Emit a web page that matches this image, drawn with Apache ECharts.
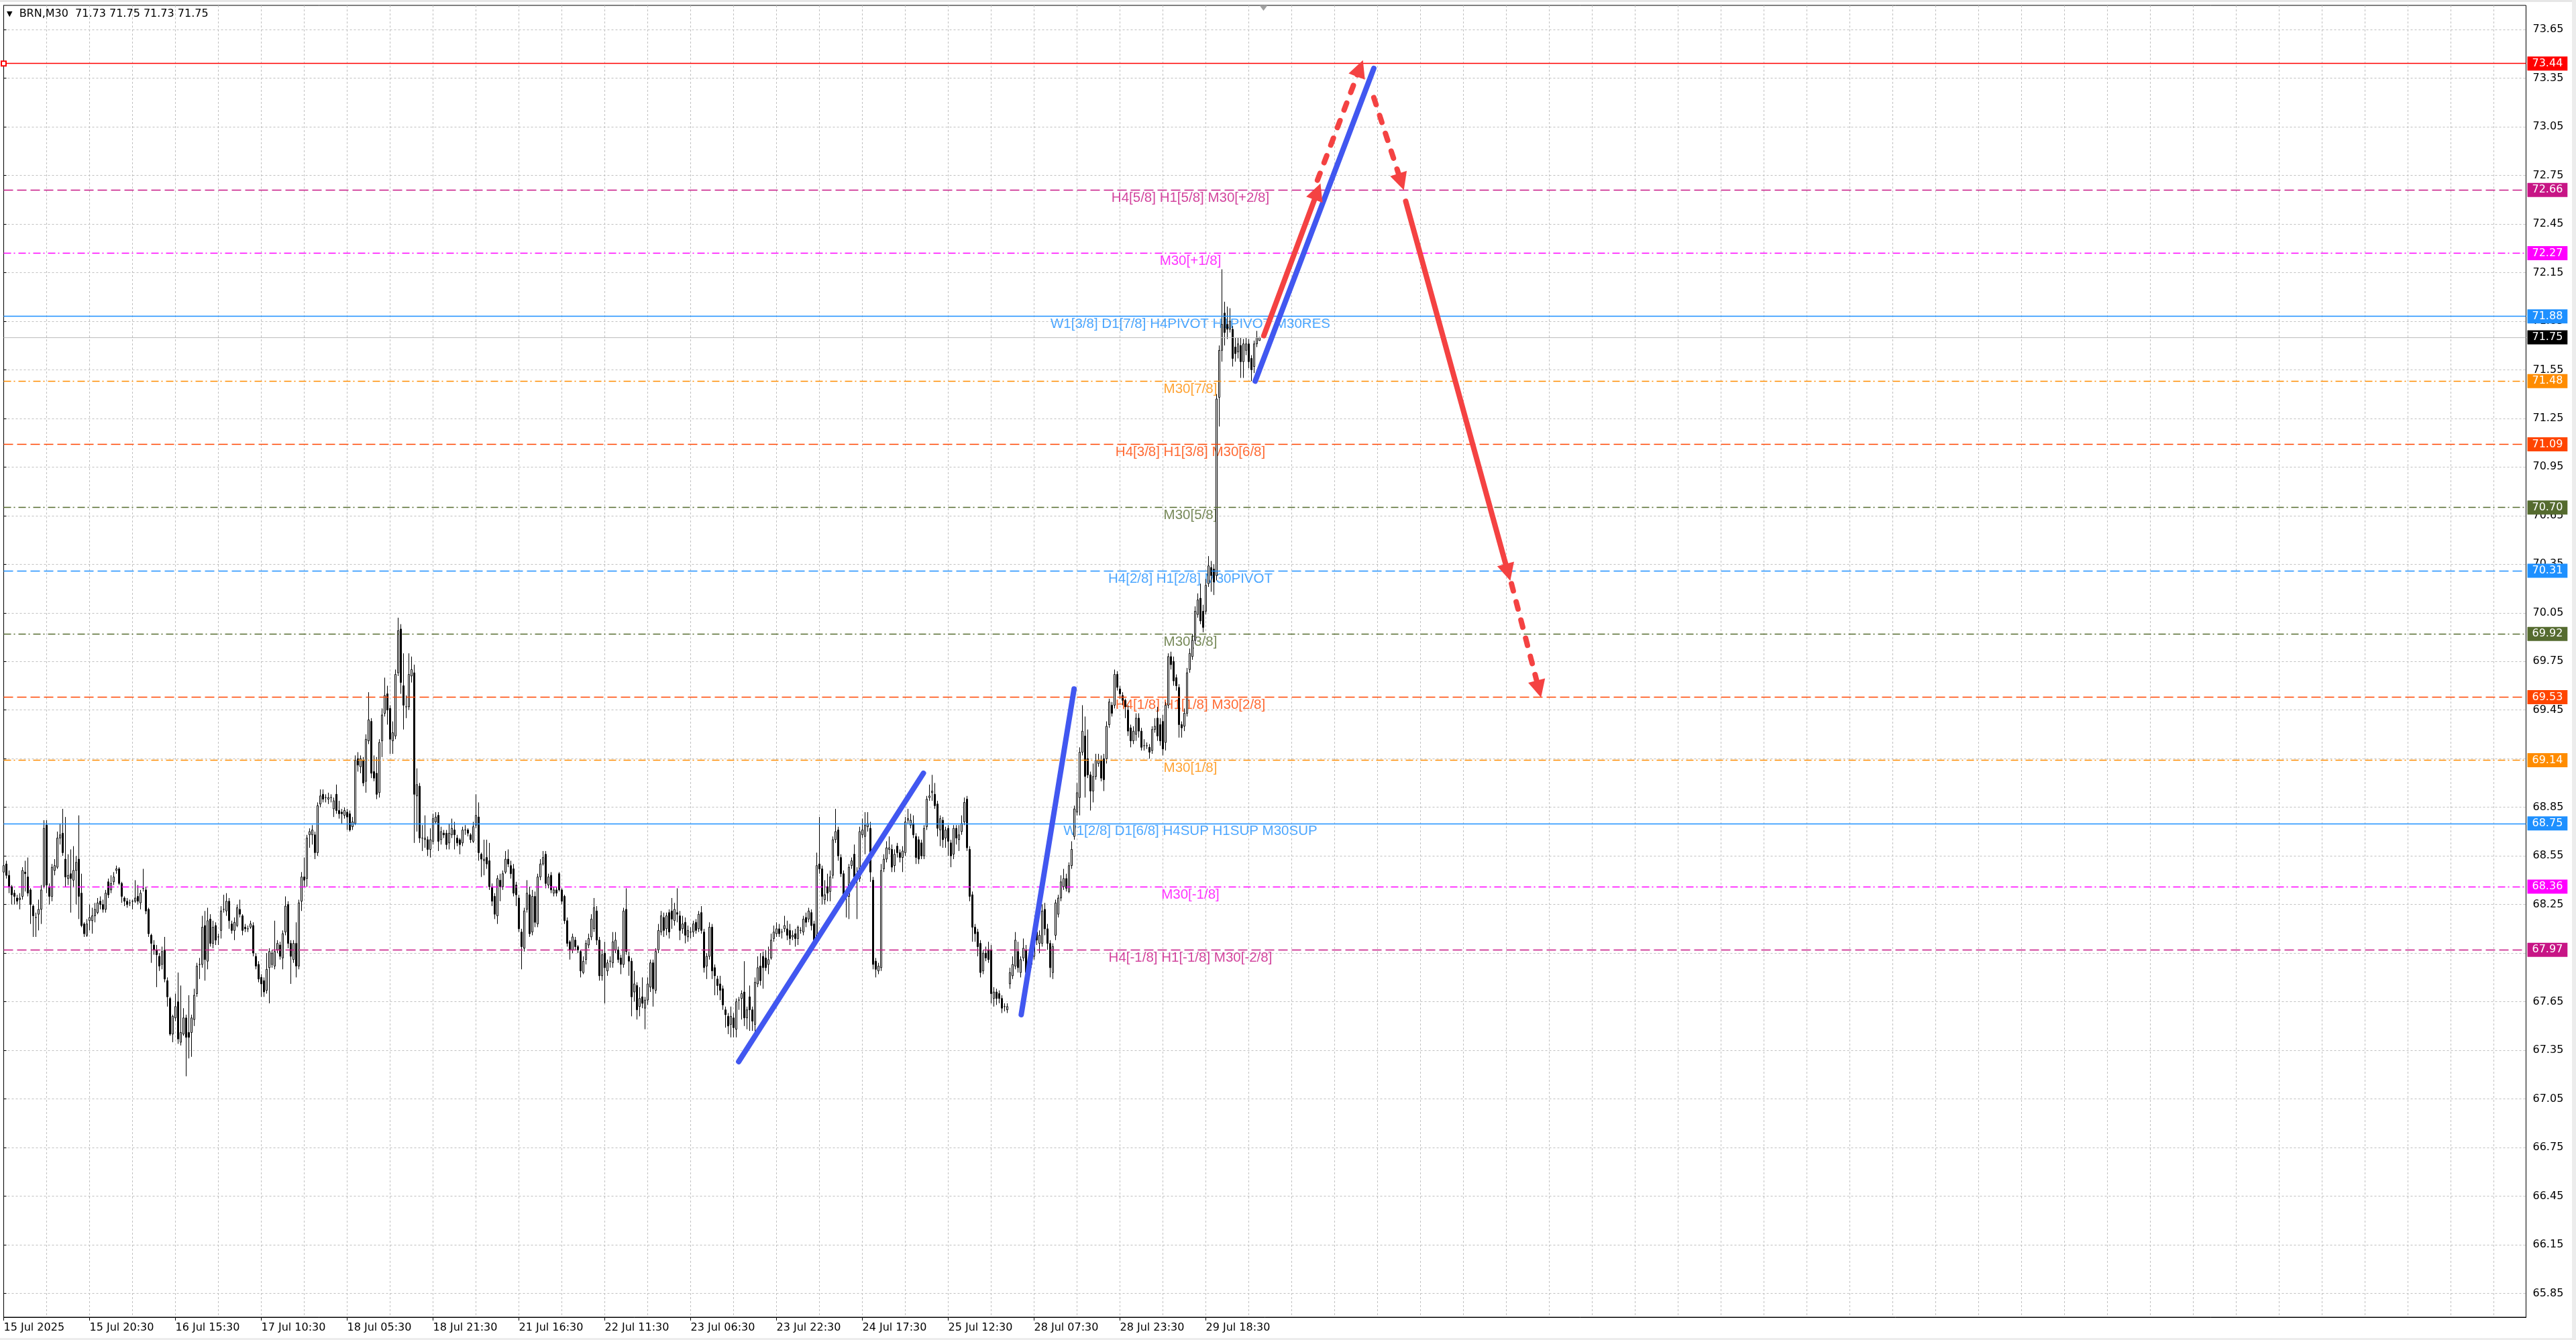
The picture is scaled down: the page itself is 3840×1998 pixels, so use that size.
<!DOCTYPE html>
<html>
<head>
<meta charset="utf-8">
<title>BRN,M30</title>
<script src="https://cdn.jsdelivr.net/npm/echarts@6/dist/echarts.min.js"></script>
<style>
    html, body { margin: 0; padding: 0; background: #fff; }
    #chart { width: 3840px; height: 1998px; }
</style>
</head>
<body>
<div id="chart"></div>
<script>
// M30 bars, one every 30 min
var barOpen = [
    68.45,68.50,68.43,68.36,68.32,68.29,68.28,68.30,68.45,68.42,
    68.34,68.24,68.17,68.19,68.22,68.36,68.74,68.36,68.30,68.46,
    68.48,68.66,68.69,68.53,68.41,68.44,68.40,68.46,68.53,68.32,
    68.13,68.06,68.15,68.15,68.18,68.20,68.27,68.25,68.22,68.39,
    68.34,68.39,68.46,68.47,68.38,68.29,68.27,68.26,68.27,68.27,
    68.30,68.26,68.35,68.34,68.22,68.06,68.00,67.97,67.93,67.88,
    67.97,67.78,67.67,67.45,67.55,67.65,67.40,67.45,67.55,67.46,
    67.46,67.54,67.70,67.88,67.88,68.12,67.90,68.16,68.01,68.12,
    68.05,68.09,68.22,68.21,68.27,68.13,68.09,68.12,68.22,68.18,
    68.11,68.10,68.11,68.12,67.93,67.88,67.80,67.78,67.72,67.86,
    67.88,67.87,67.97,68.00,67.92,68.08,68.25,68.01,67.91,68.01,
    67.87,68.27,68.42,68.41,68.68,68.68,68.68,68.57,68.87,68.93,
    68.91,68.90,68.91,68.84,68.93,68.83,68.82,68.80,68.82,68.81,
    68.73,68.75,69.15,69.10,69.14,69.01,69.26,69.38,69.07,69.06,
    68.94,69.26,69.43,69.55,69.46,69.26,69.29,69.68,69.95,69.60,
    69.47,69.47,69.66,69.68,68.92,68.98,68.66,68.65,68.65,68.59,
    68.64,68.76,68.80,68.65,68.69,68.69,68.63,68.68,68.71,68.66,
    68.65,68.63,68.71,68.71,68.68,68.64,68.74,68.79,68.56,68.52,
    68.54,68.52,68.36,68.30,68.18,68.40,68.36,68.45,68.53,68.49,
    68.47,68.37,68.29,68.08,67.98,68.22,68.31,68.08,68.30,68.13,
    68.42,68.50,68.56,68.37,68.43,68.32,68.34,68.44,68.34,68.30,
    68.15,68.02,67.97,68.03,67.99,67.96,67.83,67.91,68.00,68.05,
    68.10,68.21,68.03,67.81,67.95,67.84,67.90,67.89,67.97,67.97,
    67.92,67.88,68.22,67.93,67.90,67.71,67.75,67.62,67.68,67.61,
    67.66,67.74,67.89,67.72,67.97,68.08,68.17,68.10,68.20,68.21,
    68.15,68.20,68.18,68.10,68.14,68.05,68.08,68.08,68.14,68.10,
    68.20,68.08,67.87,67.93,68.11,67.86,67.79,67.76,67.73,67.60,
    67.56,67.51,67.55,67.48,67.66,67.67,67.71,67.55,67.68,67.60,
    67.51,67.76,67.87,67.93,67.92,67.88,67.92,68.04,68.07,68.10,
    68.08,68.10,68.10,68.09,68.05,68.07,68.04,68.09,68.08,68.17,
    68.16,68.20,68.13,68.03,68.50,68.47,68.28,68.36,68.33,68.43,
    68.65,68.71,68.54,68.44,68.32,68.30,68.49,68.56,68.43,68.41,
    68.68,68.67,68.73,68.72,68.40,67.90,67.84,67.86,68.47,68.53,
    68.59,68.59,68.49,68.61,68.57,68.54,68.57,68.77,68.74,68.75,
    68.67,68.65,68.63,68.55,68.73,68.91,68.94,68.93,68.87,68.71,
    68.77,68.66,68.72,68.63,68.56,68.72,68.65,68.70,68.76,68.90,
    68.59,68.31,68.11,68.08,68.01,67.84,67.95,67.97,67.97,67.67,
    67.71,67.70,67.67,67.62,67.60,67.76,67.81,67.87,67.96,67.83,
    67.92,67.97,67.91,67.88,67.93,68.08,68.01,68.01,68.22,68.10,
    68.01,67.83,68.06,68.19,68.29,68.36,68.41,68.33,68.49,68.67,
    68.82,68.91,69.19,69.29,69.15,69.05,68.95,69.04,69.12,69.14,
    69.15,69.15,69.36,69.48,69.48,69.67,69.58,69.54,69.51,69.45,
    69.34,69.26,69.30,69.40,69.32,69.23,69.23,69.22,69.20,69.33,
    69.40,69.36,69.38,69.25,69.48,69.78,69.75,69.65,69.59,69.36,
    69.35,69.43,69.70,69.78,69.88,70.04,70.14,70.06,70.06,70.23,
    70.33,70.32,70.28,71.38,71.67,71.90,71.83,71.80,71.80,71.69,
    71.66,71.70,71.60,71.67,71.71,71.62,71.57,71.71,71.73
];
var barHigh = [
    68.52,68.52,68.46,68.37,68.34,68.31,68.32,68.48,68.52,68.54,
    68.35,68.25,68.20,68.28,68.37,68.77,68.77,68.38,68.50,68.53,
    68.70,68.75,68.84,68.79,68.56,68.59,68.61,68.55,68.80,68.44,
    68.14,68.16,68.25,68.23,68.26,68.29,68.30,68.28,68.34,68.41,
    68.43,68.45,68.49,68.48,68.39,68.30,68.29,68.28,68.28,68.40,
    68.37,68.34,68.47,68.36,68.23,68.07,68.03,68.00,67.95,67.99,
    68.05,67.80,67.68,67.57,67.70,67.83,67.75,67.61,67.57,67.69,
    67.57,67.73,67.89,67.92,68.18,68.21,68.23,68.19,68.15,68.14,
    68.07,68.24,68.31,68.32,68.29,68.15,68.17,68.25,68.28,68.19,
    68.13,68.12,68.15,68.14,67.95,67.90,67.82,67.80,67.95,67.98,
    67.97,68.15,68.03,68.02,68.09,68.30,68.27,68.03,68.03,68.14,
    68.28,68.45,68.54,68.68,68.72,68.74,68.70,68.88,68.96,68.96,
    68.93,68.94,68.93,68.91,68.99,68.89,68.84,68.85,68.84,68.83,
    68.79,69.17,69.19,69.17,69.16,69.30,69.56,69.40,69.17,69.16,
    69.27,69.46,69.65,69.60,69.48,69.38,69.70,70.02,69.98,69.80,
    69.54,69.80,69.78,69.73,69.09,69.00,68.74,68.80,68.67,68.72,
    68.81,68.82,68.82,68.73,68.71,68.71,68.75,68.78,68.76,68.68,
    68.66,68.73,68.74,68.72,68.69,68.76,68.93,68.88,68.57,68.65,
    68.65,68.63,68.38,68.32,68.43,68.44,68.46,68.58,68.59,68.52,
    68.50,68.39,68.31,68.10,68.23,68.40,68.36,68.34,68.33,68.44,
    68.53,68.58,68.58,68.44,68.45,68.36,68.36,68.45,68.35,68.31,
    68.17,68.03,68.07,68.05,68.00,67.97,67.93,68.03,68.07,68.19,
    68.29,68.24,68.05,67.97,68.02,67.91,67.93,68.08,68.08,67.99,
    67.94,68.23,68.35,67.96,67.92,67.84,67.77,67.74,67.80,67.68,
    67.80,67.91,67.91,67.98,68.13,68.21,68.20,68.20,68.22,68.29,
    68.26,68.35,68.21,68.18,68.17,68.12,68.11,68.15,68.16,68.21,
    68.24,68.10,67.95,68.14,68.13,67.88,67.81,67.81,67.75,67.62,
    67.58,67.62,67.58,67.67,67.68,67.72,67.90,67.62,67.75,67.62,
    67.80,67.93,67.95,67.96,67.97,67.99,68.07,68.12,68.14,68.13,
    68.10,68.18,68.15,68.13,68.09,68.10,68.12,68.11,68.18,68.20,
    68.23,68.22,68.15,68.57,68.79,68.49,68.40,68.44,68.46,68.67,
    68.84,68.73,68.56,68.46,68.33,68.50,68.54,68.62,68.48,68.73,
    68.78,68.82,68.82,68.76,68.42,67.92,67.89,68.50,68.56,68.64,
    68.67,68.62,68.59,68.63,68.59,68.61,68.79,68.84,68.81,68.80,
    68.69,68.67,68.65,68.74,68.92,68.99,69.05,69.00,68.89,68.80,
    68.79,68.73,68.74,68.65,68.74,68.74,68.74,68.80,68.91,68.92,
    68.61,68.33,68.13,68.10,68.03,67.97,67.99,68.02,68.00,67.74,
    67.73,67.72,67.69,67.64,67.64,67.86,67.93,68.08,68.02,67.93,
    68.04,68.00,67.94,68.03,68.05,68.15,68.09,68.25,68.26,68.13,
    68.03,68.01,68.28,68.31,68.43,68.47,68.44,68.51,68.64,68.86,
    69.00,69.22,69.48,69.41,69.33,69.07,69.12,69.18,69.18,69.17,
    69.18,69.38,69.52,69.50,69.70,69.69,69.60,69.56,69.52,69.48,
    69.36,69.35,69.43,69.43,69.34,69.27,69.25,69.24,69.35,69.40,
    69.47,69.40,69.42,69.50,69.80,69.81,69.78,69.67,69.61,69.38,
    69.46,69.71,69.83,69.92,70.09,70.17,70.23,70.10,70.26,70.40,
    70.37,70.35,71.40,71.70,72.17,71.97,71.94,71.93,71.82,71.75,
    71.75,71.75,71.74,71.75,71.74,71.64,71.73,71.79,71.75
];
var barLow = [
    68.43,68.41,68.32,68.25,68.25,68.25,68.22,68.28,68.33,68.30,
    68.13,68.05,68.05,68.09,68.13,68.35,68.32,68.25,68.27,68.43,
    68.47,68.62,68.55,68.36,68.37,68.20,68.36,68.25,68.16,68.11,
    68.05,68.05,68.09,68.07,68.14,68.19,68.22,68.20,68.20,68.29,
    68.32,68.37,68.44,68.37,68.26,68.24,68.23,68.24,68.22,68.26,
    68.25,68.22,68.33,68.19,68.05,67.89,67.94,67.74,67.84,67.85,
    67.77,67.62,67.44,67.40,67.53,67.39,67.38,67.44,67.19,67.30,
    67.31,67.50,67.68,67.79,67.86,67.78,67.85,67.99,67.98,68.00,
    68.00,68.04,68.20,68.18,68.10,68.07,68.03,68.11,68.17,68.06,
    68.08,68.08,68.10,67.93,67.85,67.77,67.68,67.68,67.70,67.64,
    67.86,67.85,67.95,67.91,67.85,68.06,67.98,67.76,67.89,67.80,
    67.85,68.21,68.36,68.36,68.60,68.62,68.53,68.55,68.85,68.88,
    68.88,68.87,68.88,68.79,68.81,68.78,68.75,68.78,68.71,68.70,
    68.71,68.74,69.07,69.06,68.98,68.94,69.24,69.03,69.01,68.90,
    68.91,69.16,69.41,69.36,69.18,69.18,69.27,69.66,69.55,69.33,
    69.40,69.45,69.62,68.63,68.70,68.63,68.58,68.60,68.55,68.54,
    68.62,68.75,68.58,68.62,68.66,68.59,68.59,68.66,68.59,68.61,
    68.56,68.61,68.68,68.67,68.63,68.63,68.72,68.52,68.42,68.43,
    68.47,68.34,68.24,68.16,68.13,68.27,68.34,68.44,68.48,68.41,
    68.30,68.24,68.08,67.85,67.96,68.20,68.05,68.06,68.11,68.11,
    68.40,68.49,68.35,68.35,68.32,68.30,68.30,68.33,68.25,68.13,
    67.99,67.91,67.95,67.97,67.95,67.80,67.82,67.88,67.98,68.03,
    68.08,68.00,67.78,67.78,67.64,67.81,67.86,67.86,67.95,67.89,
    67.82,67.86,67.94,67.81,67.56,67.65,67.54,67.56,67.61,67.48,
    67.63,67.71,67.62,67.70,67.95,68.06,68.05,68.06,68.04,68.10,
    68.12,68.14,68.03,68.07,68.01,68.02,68.04,68.05,68.07,68.08,
    68.07,67.83,67.79,67.91,67.79,67.69,67.69,67.66,67.60,67.49,
    67.45,67.43,67.43,67.43,67.60,67.54,67.50,67.48,67.47,67.47,
    67.45,67.74,67.75,67.73,67.84,67.82,67.91,68.02,68.05,68.05,
    68.04,68.08,68.03,68.00,68.03,67.99,68.00,68.07,68.06,68.11,
    68.14,68.09,68.01,68.01,68.44,68.25,68.25,68.27,68.27,68.41,
    68.63,68.52,68.42,68.27,68.17,68.16,68.47,68.39,68.16,68.39,
    68.66,68.56,68.70,68.39,67.85,67.80,67.82,67.84,68.45,68.51,
    68.56,68.45,68.45,68.54,68.51,68.45,68.55,68.75,68.72,68.66,
    68.50,68.50,68.53,68.53,68.71,68.89,68.89,68.84,68.67,68.61,
    68.60,68.60,68.55,68.48,68.53,68.62,68.58,68.68,68.74,68.58,
    68.27,68.02,68.02,67.93,67.80,67.82,67.90,67.89,67.64,67.62,
    67.63,67.64,67.58,67.59,67.58,67.73,67.79,67.85,67.83,67.80,
    67.90,67.80,67.84,67.86,67.91,68.00,67.95,67.99,68.06,67.97,
    67.80,67.79,68.03,68.17,68.27,68.34,68.33,68.32,68.47,68.65,
    68.80,68.80,69.17,68.91,69.03,68.83,68.88,69.02,69.10,69.01,
    68.95,69.12,69.34,69.41,69.46,69.57,69.52,69.48,69.40,69.29,
    69.22,69.24,69.26,69.28,69.20,69.20,69.21,69.15,69.18,69.31,
    69.26,69.23,69.17,69.20,69.46,69.70,69.60,69.57,69.28,69.28,
    69.32,69.41,69.68,69.76,69.86,70.02,69.98,69.93,70.04,70.21,
    70.18,70.16,70.25,71.20,71.60,71.70,71.74,71.78,71.57,71.60,
    71.62,71.50,71.50,71.64,71.56,71.48,71.53,71.69,71.73
];
var barClose = [
    68.49,68.43,68.36,68.31,68.30,68.27,68.29,68.46,68.44,68.32,
    68.25,68.18,68.17,68.22,68.34,68.72,68.37,68.30,68.48,68.49,
    68.66,68.68,68.57,68.42,68.43,68.41,68.46,68.51,68.30,68.12,
    68.07,68.13,68.17,68.18,68.22,68.26,68.25,68.22,68.32,68.31,
    68.38,68.42,68.47,68.38,68.30,68.27,68.25,68.26,68.27,68.29,
    68.27,68.32,68.35,68.21,68.07,68.01,67.97,67.94,67.87,67.96,
    67.79,67.68,67.45,67.56,67.62,67.42,67.46,67.55,67.43,67.43,
    67.55,67.69,67.87,67.88,68.11,67.91,68.15,68.01,68.11,68.03,
    68.05,68.21,68.22,68.27,68.15,68.09,68.14,68.23,68.19,68.09,
    68.10,68.10,68.13,67.95,67.87,67.79,67.76,67.71,67.85,67.96,
    67.95,67.96,68.01,67.93,68.07,68.24,68.01,67.93,68.01,67.87,
    68.26,68.42,68.40,68.66,68.70,68.71,68.57,68.86,68.92,68.90,
    68.91,68.91,68.91,68.89,68.83,68.81,68.81,68.83,68.79,68.71,
    68.76,69.14,69.11,69.15,69.00,69.27,69.39,69.06,69.03,68.93,
    69.25,69.42,69.54,69.45,69.27,69.31,69.67,69.94,69.62,69.48,
    69.47,69.67,69.70,68.93,68.99,68.66,68.66,68.66,68.59,68.65,
    68.78,68.79,68.64,68.70,68.68,68.62,68.69,68.72,68.68,68.63,
    68.62,68.71,68.71,68.69,68.65,68.73,68.80,68.57,68.53,68.53,
    68.50,68.36,68.27,68.19,68.41,68.36,68.44,68.53,68.50,68.44,
    68.32,68.31,68.10,67.99,68.21,68.32,68.07,68.30,68.14,68.42,
    68.50,68.54,68.38,68.42,68.34,68.34,68.32,68.34,68.27,68.15,
    68.01,67.97,68.05,67.99,67.97,67.84,67.90,68.01,68.04,68.16,
    68.23,68.03,67.81,67.94,67.86,67.89,67.90,68.02,68.03,67.91,
    67.88,68.21,67.96,67.90,67.68,67.76,67.60,67.67,67.64,67.66,
    67.76,67.89,67.73,67.96,68.09,68.18,68.09,68.18,68.08,68.16,
    68.22,68.19,68.09,68.13,68.06,68.09,68.08,68.13,68.09,68.19,
    68.09,67.86,67.93,68.11,67.84,67.81,67.75,67.72,67.63,67.57,
    67.50,67.56,67.49,67.65,67.66,67.70,67.55,67.60,67.60,67.53,
    67.77,67.86,67.78,67.86,67.86,67.91,68.03,68.08,68.10,68.07,
    68.08,68.12,68.06,68.04,68.06,68.04,68.11,68.09,68.16,68.14,
    68.21,68.12,68.03,68.49,68.47,68.30,68.31,68.32,68.42,68.65,
    68.70,68.55,68.44,68.30,68.30,68.48,68.52,68.42,68.43,68.70,
    68.71,68.74,68.75,68.45,67.88,67.85,67.87,68.46,68.53,68.60,
    68.60,68.48,68.56,68.57,68.54,68.58,68.76,68.78,68.77,68.68,
    68.54,68.53,68.55,68.72,68.90,68.92,68.95,68.86,68.72,68.78,
    68.65,68.71,68.64,68.55,68.72,68.66,68.68,68.75,68.88,68.60,
    68.30,68.11,68.07,67.99,67.83,67.95,67.92,67.91,67.70,67.71,
    67.67,67.67,67.61,67.62,67.62,67.83,67.88,68.03,67.86,67.91,
    67.98,67.83,67.86,67.96,68.01,68.03,68.06,68.21,68.10,68.01,
    67.86,67.99,68.26,68.29,68.39,68.41,68.35,68.49,68.59,68.84,
    68.94,69.19,69.32,69.04,69.05,68.95,69.04,69.14,69.14,69.03,
    69.02,69.35,69.50,69.43,69.67,69.59,69.55,69.51,69.47,69.32,
    69.26,69.32,69.40,69.32,69.22,69.23,69.23,69.19,69.33,69.35,
    69.29,69.26,69.21,69.48,69.78,69.73,69.63,69.60,69.36,69.34,
    69.43,69.68,69.80,69.88,70.06,70.13,70.00,69.96,70.22,70.34,
    70.28,70.24,71.37,71.67,71.83,71.78,71.80,71.85,71.62,71.65,
    71.71,71.60,71.71,71.71,71.60,71.55,71.71,71.75,71.75
];

// time axis: one label every 32 bars
var timeLabels = ['15 Jul 2025', '15 Jul 20:30', '16 Jul 15:30', '17 Jul 10:30', '18 Jul 05:30',
    '18 Jul 21:30', '21 Jul 16:30', '22 Jul 11:30', '23 Jul 06:30', '23 Jul 22:30',
    '24 Jul 17:30', '25 Jul 12:30', '28 Jul 07:30', '28 Jul 23:30', '29 Jul 18:30'];
var priceTicks = [65.85, 66.15, 66.45, 66.75, 67.05, 67.35, 67.65, 67.95, 68.25, 68.55, 68.85,
    69.15, 69.45, 69.75, 70.05, 70.35, 70.65, 70.95, 71.25, 71.55, 71.85, 72.15, 72.45,
    72.75, 73.05, 73.35, 73.65];

// murrey levels
var levelValues = [73.44, 72.66, 72.27, 71.88, 71.48, 71.09, 70.70, 70.31, 69.92, 69.53, 69.14, 68.75, 68.36, 67.97];
var levelNames = ['', 'H4[5/8] H1[5/8] M30[+2/8]', 'M30[+1/8]', 'W1[3/8] D1[7/8] H4PIVOT H1PIVOT M30RES',
    'M30[7/8]', 'H4[3/8] H1[3/8] M30[6/8]', 'M30[5/8]', 'H4[2/8] H1[2/8] M30PIVOT', 'M30[3/8]',
    'H4[1/8] H1[1/8] M30[2/8]', 'M30[1/8]', 'W1[2/8] D1[6/8] H4SUP H1SUP M30SUP', 'M30[-1/8]',
    'H4[-1/8] H1[-1/8] M30[-2/8]'];

// drawn objects, [bar index, price]
var trendLines = [
    [[273.9, 67.28], [342.75, 69.06]],
    [[379.2, 67.57], [398.9, 69.58]],
    [[466.4, 71.48], [510.6, 73.41]]
];
var arrowsSolid = [
    [[469.6, 71.76], [489.6, 72.65]],
    [[522.5, 72.59], [560.6, 70.30]]
];
var arrowsDashed = [
    [[489.6, 72.72], [505.4, 73.41]],
    [[510.6, 73.23], [520.8, 72.71]],
    [[561.9, 70.23], [572.1, 69.58]]
];

var DASH = [14, 6], DASHDOT = [11, 4, 2, 5];
var levelStyles = [
    { color: '#FF0000', type: 'solid' },
    { color: '#C71585', type: DASH },
    { color: '#FF00FF', type: DASHDOT },
    { color: '#1E90FF', type: 'solid' },
    { color: '#FF8C00', type: DASHDOT },
    { color: '#FF4500', type: DASH },
    { color: '#556B2F', type: DASHDOT },
    { color: '#1E90FF', type: DASH },
    { color: '#556B2F', type: DASHDOT },
    { color: '#FF4500', type: DASH },
    { color: '#FF8C00', type: DASHDOT },
    { color: '#1E90FF', type: 'solid' },
    { color: '#FF00FF', type: DASHDOT },
    { color: '#C71585', type: DASH }
];

var yMin = 65.703, yMax = 73.799;
var slotCount = 941;      // bars visible across the window incl. the empty shift area
var nameSlot = 442.25;    // bar where the level names are centred
var shiftSlot = 469.5;    // chart shift marker
var FONT = 'DejaVu Sans';
var NAME_FONT = 'Liberation Sans';

var chart = echarts.init(document.getElementById('chart'));

var last = barClose.length - 1;
var candles = barOpen.map(function (o, i) {
    return [o, barClose[i], barLow[i], barHigh[i]];
});

var slots = [];
for (var i = 0; i < slotCount; i++) {
    slots.push(String(i));
}

var isTimeSlot = function (index) {
    return index % 32 === 0 && index / 32 < timeLabels.length;
};

var levelLines = levelValues.map(function (v, i) {
    return {
        yAxis: v,
        symbol: i === 0 ? 'emptyRect' : 'none',
        symbolSize: 7,
        lineStyle: { color: levelStyles[i].color, type: levelStyles[i].type, width: 1.4 },
        label: { backgroundColor: levelStyles[i].color }
    };
});
levelLines.push({
    yAxis: barClose[last],
    symbol: 'none',
    lineStyle: { color: '#bdbdbd', type: 'solid', width: 1.2 },
    label: { backgroundColor: '#000' }
});

var nameData = [];
levelNames.forEach(function (name, i) {
    if (name) {
        nameData.push({ value: [nameSlot, levelValues[i], name], label: { color: levelStyles[i].color } });
    }
});

var toLines = function (list) {
    return list.map(function (c) { return { coords: c }; });
};

var header = '{tri|\u25BC}  BRN,M30  ' + [barOpen[last], barHigh[last], barLow[last], barClose[last]]
    .map(function (v) { return v.toFixed(2); }).join(' ');

var option = {
    animation: false,
    backgroundColor: '#fff',
    textStyle: { fontFamily: FONT },
    title: {
        text: header,
        left: 10,
        top: 13,
        padding: 0,
        textStyle: {
            fontFamily: FONT, fontSize: 16, fontWeight: 'normal', color: '#000',
            rich: { tri: { fontFamily: FONT, fontSize: 11, color: '#000' } }
        }
    },
    graphic: [
        { type: 'rect', z: -1, shape: { x: 0, y: 0, width: 3840, height: 3 }, style: { fill: '#e6e6e6' } },
        { type: 'rect', z: -1, shape: { x: 3834, y: 0, width: 6, height: 1998 }, style: { fill: '#ececec' } },
        { type: 'rect', z: -1, shape: { x: 0, y: 1995, width: 3840, height: 3 }, style: { fill: '#ececec' } }
    ],
    grid: {
        left: 5.5, right: 74.5, top: 8, bottom: 34,
        show: true, borderColor: '#000', borderWidth: 1, backgroundColor: '#fff'
    },
    xAxis: [{
        type: 'category',
        data: slots,
        boundaryGap: false,
        axisLine: { lineStyle: { color: '#000', width: 1 } },
        axisTick: { show: true, interval: isTimeSlot, length: 5, lineStyle: { color: '#000' } },
        axisLabel: {
            interval: isTimeSlot,
            formatter: function (v, index) { return timeLabels[index / 32]; },
            align: 'left', margin: 8, fontSize: 16, color: '#000', fontFamily: FONT
        },
        splitLine: {
            show: true,
            interval: function (index) { return index > 0 && index % 16 === 0; },
            lineStyle: { color: '#c0c0c0', type: [3, 3], width: 1 }
        }
    }, {
        type: 'value', min: 0, max: slotCount - 1, show: false
    }],
    yAxis: [{
        type: 'value',
        position: 'right',
        min: yMin,
        max: yMax,
        axisLine: { show: true, lineStyle: { color: '#000' } },
        axisTick: { show: true, length: 4, customValues: priceTicks, lineStyle: { color: '#000' } },
        axisLabel: {
            customValues: priceTicks,
            formatter: function (v) { return v.toFixed(2); },
            margin: 10, fontSize: 16, color: '#000', fontFamily: FONT
        },
        splitLine: { show: true, lineStyle: { color: '#c0c0c0', type: [3, 3], width: 1 } }
    }],
    series: [
        {
            // levels + price tags on the right
            type: 'line',
            xAxisIndex: 1,
            data: [],
            z: 1,
            silent: true,
            markLine: {
                silent: true,
                symbol: 'none',
                animation: false,
                label: {
                    show: true,
                    position: 'end',
                    distance: 2,
                    formatter: function (p) { return p.value.toFixed(2); },
                    color: '#fff',
                    fontSize: 16,
                    fontFamily: FONT,
                    padding: [3, 7, 2, 7]
                },
                data: levelLines
            },
            markPoint: {
                silent: true,
                data: [{
                    coord: [shiftSlot, yMax],
                    symbol: 'triangle',
                    symbolRotate: 180,
                    symbolSize: [12, 8],
                    symbolOffset: [0, 4],
                    itemStyle: { color: '#a0a0a0' },
                    label: { show: false }
                }]
            }
        },
        {
            type: 'scatter',
            xAxisIndex: 1,
            z: 2,
            silent: true,
            symbolSize: 1,
            itemStyle: { color: 'transparent' },
            label: {
                show: true,
                position: 'bottom',
                distance: 1,
                fontSize: 20.5,
                fontFamily: NAME_FONT,
                formatter: function (p) { return p.value[2]; }
            },
            data: nameData
        },
        {
            type: 'candlestick',
            z: 3,
            barWidth: 2,
            silent: true,
            itemStyle: {
                color: '#fff', color0: '#000',
                borderColor: '#000', borderColor0: '#000', borderWidth: 1
            },
            data: candles
        },
        {
            type: 'lines',
            coordinateSystem: 'cartesian2d',
            xAxisIndex: 1,
            z: 5,
            silent: true,
            symbol: 'none',
            lineStyle: { color: '#4157F0', width: 8, cap: 'round', opacity: 1, curveness: 0 },
            data: toLines(trendLines)
        },
        {
            type: 'lines',
            coordinateSystem: 'cartesian2d',
            xAxisIndex: 1,
            z: 6,
            silent: true,
            symbol: ['none', 'triangle'],
            symbolSize: 26,
            lineStyle: { color: '#F44242', width: 8, cap: 'round', opacity: 1, curveness: 0 },
            data: toLines(arrowsSolid)
        },
        {
            type: 'lines',
            coordinateSystem: 'cartesian2d',
            xAxisIndex: 1,
            z: 6,
            silent: true,
            symbol: ['none', 'triangle'],
            symbolSize: 26,
            lineStyle: { color: '#F44242', width: 8, cap: 'round', type: [11, 17], opacity: 1, curveness: 0 },
            data: toLines(arrowsDashed)
        }
    ]
};

chart.setOption(option);
</script>
</body>
</html>
